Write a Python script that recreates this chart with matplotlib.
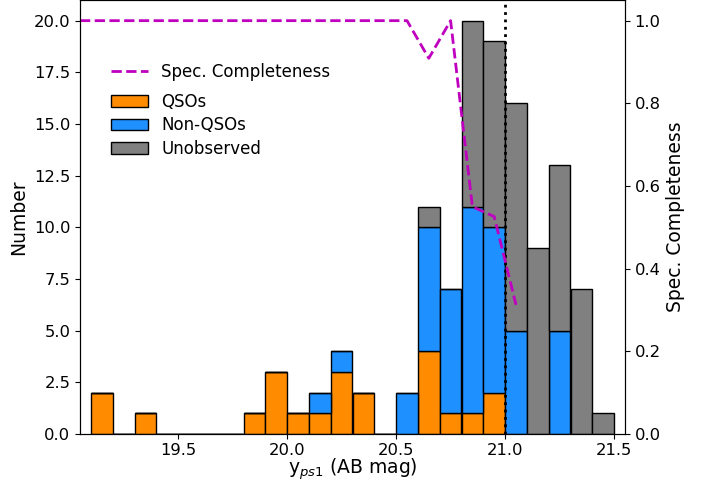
import matplotlib
matplotlib.use("Agg")
import matplotlib.pyplot as plt
import numpy as np

# histogram bins (y_ps1 mag), width 0.1
bin_edges = np.round(np.arange(19.1, 21.51, 0.1), 2)
qsos = [2, 0, 1, 0, 0, 0, 0, 1, 3, 1, 1, 3, 2, 0, 0, 4, 1, 1, 2, 0, 0, 0, 0, 0]
non_qsos = [0, 0, 0, 0, 0, 0, 0, 0, 0, 0, 1, 1, 0, 0, 2, 6, 6, 10, 8, 5, 0, 5, 0, 0]
unobserved = [0, 0, 0, 0, 0, 0, 0, 0, 0, 0, 0, 0, 0, 0, 0, 1, 0, 9, 9, 11, 9, 8, 7, 1]

# spectroscopic completeness at bin centres
comp_x = [19.05, 19.15, 19.25, 19.35, 19.45, 19.55, 19.65, 19.75, 19.85, 19.95, 20.05,
          20.15, 20.25, 20.35, 20.45, 20.55, 20.65, 20.75, 20.85, 20.95, 21.05]
comp_y = [1.0, 1.0, 1.0, 1.0, 1.0, 1.0, 1.0, 1.0, 1.0, 1.0, 1.0,
          1.0, 1.0, 1.0, 1.0, 1.0, 0.909, 1.0, 0.55, 0.526, 0.3125]

mag_limit = 21.0

fig = plt.figure(figsize=(7.11, 4.86), dpi=100)
ax = fig.add_axes([80 / 711, 1 - 434 / 486, 545 / 711, 434 / 486])
ax2 = ax.twinx()

left = bin_edges[:-1]
width = np.diff(bin_edges)
q = np.array(qsos)
n = np.array(non_qsos)
u = np.array(unobserved)

ax.bar(left, q, width=width, align='edge', color='darkorange', edgecolor='black', linewidth=1, label='QSOs')
ax.bar(left, n, width=width, bottom=q, align='edge', color='dodgerblue', edgecolor='black', linewidth=1, label='Non-QSOs')
ax.bar(left, u, width=width, bottom=q + n, align='edge', color='gray', edgecolor='black', linewidth=1, label='Unobserved')

ax.axvline(mag_limit, color='black', linestyle=':', linewidth=2)

ax2.plot(comp_x, comp_y, color='m', linestyle='--', linewidth=2, label='Spec. Completeness')

ax.set_xlim(19.05, 21.55)
ax.set_ylim(0, 21)
ax2.set_ylim(0, 1.05)

ax.set_xlabel('y$_{ps1}$ (AB mag)', fontsize=13.5, labelpad=-1)
ax.set_ylabel('Number', fontsize=13.5)
ax2.set_ylabel('Spec. Completeness', fontsize=13.5)
ax.tick_params(labelsize=11.8)
ax.tick_params(axis='x', pad=3)
ax2.tick_params(labelsize=11.8)

ax.legend(loc='upper left', bbox_to_anchor=(0.03, 0.82), frameon=False, fontsize=12,
          handlelength=2.2, labelspacing=0.32)
ax2.legend(loc='upper left', bbox_to_anchor=(0.03, 0.89), frameon=False, fontsize=12,
           handlelength=2.2)

fig.savefig('out.png', dpi=100)
